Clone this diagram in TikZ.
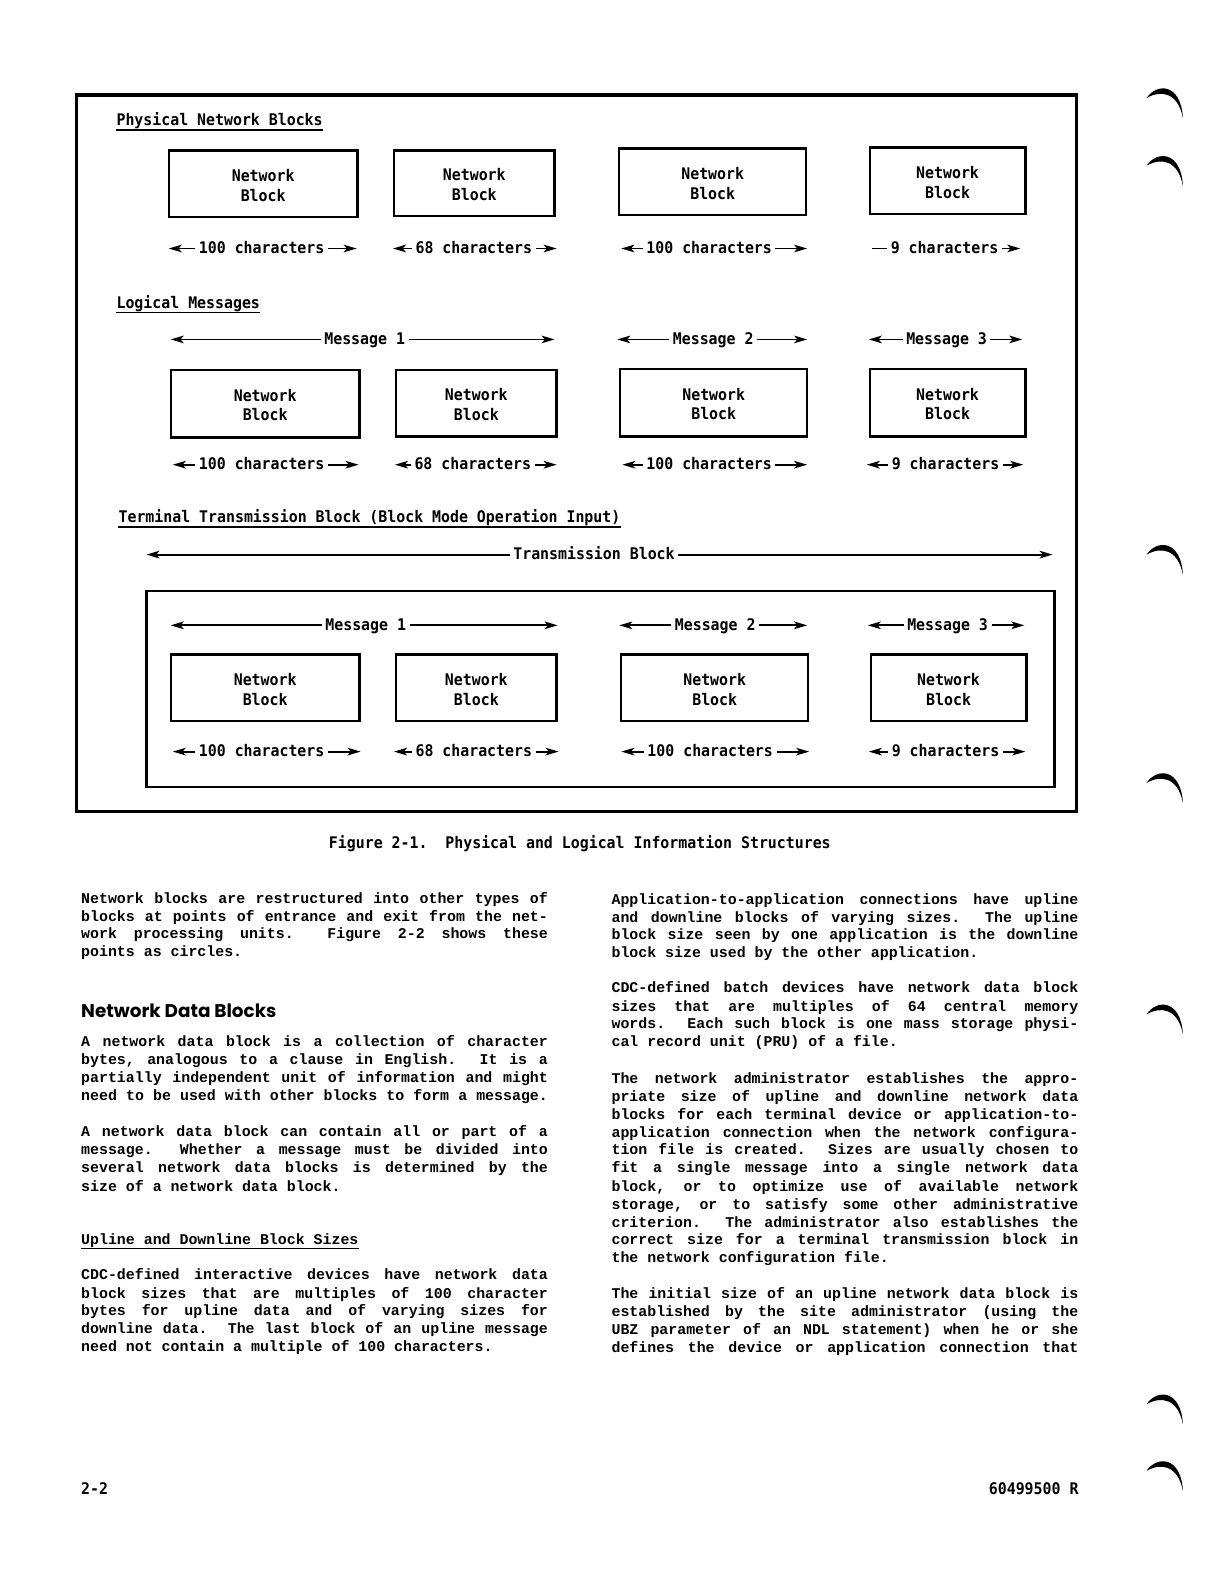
\documentclass[tikz,border=0pt]{standalone}
\usepackage{fontspec}
\usetikzlibrary{fit,arrows.meta}
\newfontfamily\dfont{DejaVu Sans Mono}[FakeStretch=0.93]
\newfontfamily\bfont{Liberation Mono}
\newfontfamily\hfont{Poppins}
\newlength\colw \setlength\colw{233.3pt}
\tikzset{
  dtext/.style={font=\dfont\bfseries\fontsize{8}{10}\selectfont},
  netbox/.style={draw, line width=1.2pt, inner sep=0pt},
  boxtext/.style={dtext, inner sep=0pt, align=center},
  lab/.style={dtext, inner sep=0pt, inner xsep=1.6pt, text height=5pt, text depth=0pt},
  dimarrow/.style={line width=0.9pt, -{Stealth[length=6.5pt,width=3.8pt,inset=1.6pt]}},
  plainline/.style={line width=0.9pt},
  titletext/.style={dtext, inner sep=0pt, anchor=base west},
  underl/.style={line width=0.9pt},
  outerframe/.style={line width=1.6pt},
  innerframe/.style={line width=1.3pt},
  bodytext/.style={font=\bfont\bfseries\fontsize{7.45}{9}\selectfont, inner sep=0pt, anchor=base west},
}
\newcommand\nbox[5]{\node[netbox, fit={(#2,#3) (#4,#5)}] (#1) {};
  \node[boxtext, anchor=base] (#1-t) at ([yshift=1.2pt]#1.center) {Network};
  \node[boxtext, anchor=base] (#1-u) at ([yshift=-8.6pt]#1.center) {Block};}
\newcommand\dimlab[6]{%
  \node[lab] (#1) at (#3,#5) {#6};
  \coordinate (#1-l) at (#2,#5);
  \coordinate (#1-r) at (#4,#5);
  \draw[dimarrow] (#1.west) -- (#1-l);
  \draw[dimarrow] (#1.east) -- (#1-r);}
\newcommand\justline[4]{\node[bodytext] (#1) at (#2,#3) {\hbox to \colw{\spaceskip=.6em plus 1fil\relax #4}};}
\newcommand\lastline[4]{\node[bodytext] (#1) at (#2,#3) {#4};}
\newcommand\binder[2]{\fill (#1,#2+12) .. controls (#1+10,#2-3) and (#1+34,#2-3) .. (#1+36,#2+32) .. controls (#1+31,#2+6) and (#1+14,#2+4) .. cycle;}
\begin{document}
\begin{tikzpicture}[x=0.505pt,y=-0.505pt]
\useasboundingbox (0,0) rectangle (1208,1568);
\fill[white] (0,0) rectangle (1208,1568);

% frames
\draw[outerframe] (76,94) rectangle (1066,803);
\draw[innerframe] (145,585) rectangle (1044,779);

% ---------- Physical Network Blocks
\node[titletext] (t1) at (115,124) {Physical Network Blocks};
\draw[underl] ([yshift=-2.2pt]t1.base west) -- ([yshift=-2.2pt]t1.base east);
\nbox{p1}{167}{149}{354}{215}
\nbox{p2}{390}{149}{549}{214}
\nbox{p3}{613}{147}{798}{213}
\nbox{p4}{861}{146}{1015}{212}
\dimlab{pa}{167}{259}{353}{246}{100 characters}
\dimlab{pb}{389}{469}{551}{246}{68 characters}
\dimlab{pc}{615}{702}{799}{246}{100 characters}
\node[lab] (pd) at (935,246) {9 characters};
\coordinate (pd-l) at (863,246);
\coordinate (pd-r) at (1010,246);
\draw[plainline] (pd.west) -- (pd-l);
\draw[dimarrow] (pd.east) -- (pd-r);

% ---------- Logical Messages
\node[titletext] (t2) at (115,305) {Logical Messages};
\draw[underl] ([yshift=-2.2pt]t2.base west) -- ([yshift=-2.2pt]t2.base east);
\dimlab{lm1}{169}{361}{549}{336}{Message 1}
\dimlab{lm2}{611}{706}{799}{336}{Message 2}
\dimlab{lm3}{860}{937}{1012}{336}{Message 3}
\nbox{l1}{169}{366}{356}{433}
\nbox{l2}{392}{366}{551}{432}
\nbox{l3}{614}{365}{799}{432}
\nbox{l4}{861}{365}{1015}{432}
\dimlab{la}{171}{259}{355}{460}{100 characters}
\dimlab{lb}{391}{468}{551}{460}{68 characters}
\dimlab{lc}{616}{702}{799}{460}{100 characters}
\dimlab{ld}{858}{936}{1013}{460}{9 characters}

% ---------- Terminal Transmission Block
\node[titletext] (t3) at (117,517) {Terminal Transmission Block (Block Mode Operation Input)};
\draw[underl] ([yshift=-2.2pt]t3.base west) -- ([yshift=-2.2pt]t3.base east);
\dimlab{tb}{145}{588}{1042}{549}{Transmission Block}
\dimlab{tm1}{169}{362}{552}{619}{Message 1}
\dimlab{tm2}{613}{708}{799}{619}{Message 2}
\dimlab{tm3}{859}{938}{1014}{619}{Message 3}
\nbox{b1}{169}{648}{356}{714}
\nbox{b2}{392}{648}{551}{714}
\nbox{b3}{615}{648}{800}{714}
\nbox{b4}{862}{648}{1016}{714}
\dimlab{ba}{171}{259}{357}{744}{100 characters}
\dimlab{bb}{390}{469}{553}{744}{68 characters}
\dimlab{bc}{615}{703}{801}{744}{100 characters}
\dimlab{bd}{860}{936}{1015}{744}{9 characters}

% caption
\node[dtext, inner sep=0pt] (cap) at (574,835) {Figure 2-1.~~Physical and Logical Information Structures};

% ---------- left column
\justline{a1}{80}{894}{Network blocks are restructured into other types of}
\justline{a2}{80}{912}{blocks at points of entrance and exit from the net-}
\justline{a3}{80}{929}{work processing units.\ \ Figure 2-2 shows these}
\lastline{a4}{80}{947}{points as circles.}
\node[font=\hfont\bfseries\fontsize{9.2}{11}\selectfont, inner sep=0pt, anchor=base west] (h1) at (80,1007) {Network Data Blocks};
\justline{a5}{80}{1036}{A network data block is a collection of character}
\justline{a6}{80}{1054}{bytes, analogous to a clause in English.\ \ It is a}
\justline{a7}{80}{1072}{partially independent unit of information and might}
\justline{a8}{80}{1089}{need to be used with other blocks to form a message.}
\justline{a9}{80}{1125}{A network data block can contain all or part of a}
\justline{a10}{80}{1143}{message.\ \ Whether a message must be divided into}
\justline{a11}{80}{1161}{several network data blocks is determined by the}
\lastline{a12}{80}{1179}{size of a network data block.}
\lastline{h2}{80}{1232}{Upline and Downline Block Sizes}
\draw[line width=0.8pt] ([yshift=-2pt]h2.base west) -- ([yshift=-2pt]h2.base east);
\justline{a13}{80}{1267}{CDC-defined interactive devices have network data}
\justline{a14}{80}{1285}{block sizes that are multiples of 100 character}
\justline{a15}{80}{1302}{bytes for upline data and of varying sizes for}
\justline{a16}{80}{1320}{downline data.\ \ The last block of an upline message}
\lastline{a17}{80}{1338}{need not contain a multiple of 100 characters.}

% ---------- right column
\justline{c1}{605}{895}{Application-to-application connections have upline}
\justline{c2}{605}{913}{and downline blocks of varying sizes.\ \ The upline}
\justline{c3}{605}{930}{block size seen by one application is the downline}
\lastline{c4}{605}{948}{block size used by the other application.}
\justline{c5}{605}{982}{CDC-defined batch devices have network data block}
\justline{c6}{605}{1001}{sizes that are multiples of 64 central memory}
\justline{c7}{605}{1018}{words.\ \ Each such block is one mass storage physi-}
\lastline{c8}{605}{1036}{cal record unit (PRU) of a file.}
\justline{c9}{605}{1073}{The network administrator establishes the appro-}
\justline{c10}{605}{1090}{priate size of upline and downline network data}
\justline{c11}{605}{1108}{blocks for each terminal device or application-to-}
\justline{c12}{605}{1126}{application connection when the network configura-}
\justline{c13}{605}{1143}{tion file is created.\ \ Sizes are usually chosen to}
\justline{c14}{605}{1161}{fit a single message into a single network data}
\justline{c15}{605}{1179}{block, or to optimize use of available network}
\justline{c16}{605}{1197}{storage, or to satisfy some other administrative}
\justline{c17}{605}{1215}{criterion.\ \ The administrator also establishes the}
\justline{c18}{605}{1232}{correct size for a terminal transmission block in}
\lastline{c19}{605}{1250}{the network configuration file.}
\justline{c20}{605}{1285}{The initial size of an upline network data block is}
\justline{c21}{605}{1303}{established by the site administrator (using the}
\justline{c22}{605}{1321}{UBZ parameter of an NDL statement) when he or she}
\justline{c23}{605}{1339}{defines the device or application connection that}

% footer
\node[dtext, inner sep=0pt, anchor=base west] (f1) at (80,1479) {2-2};
\node[dtext, inner sep=0pt, anchor=base east] (f2) at (1068,1479) {60499500 R};

% binder marks
\binder{1135}{85}
\binder{1135}{152}
\binder{1135}{537}
\binder{1135}{763}
\binder{1135}{992}
\binder{1135}{1378}
\binder{1135}{1444}
\end{tikzpicture}
\end{document}
